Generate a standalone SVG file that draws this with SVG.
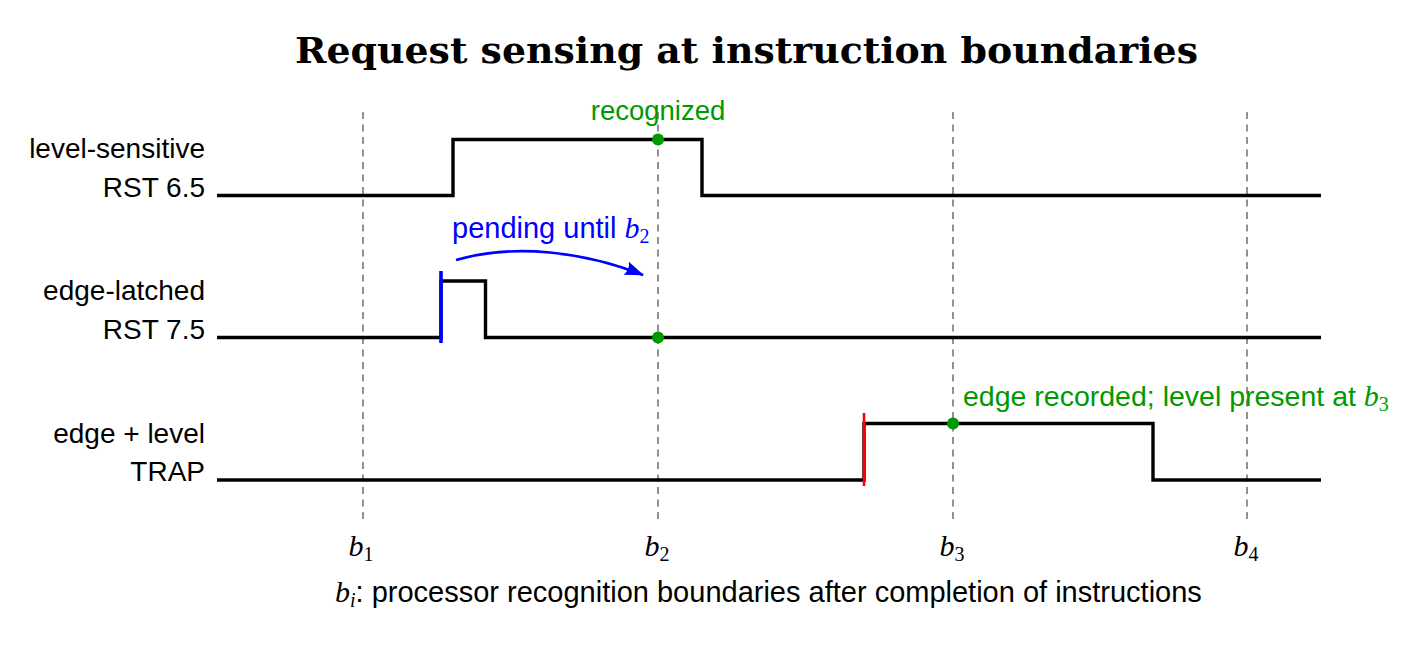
<svg xmlns="http://www.w3.org/2000/svg" width="1422" height="649" viewBox="0 0 1422 649">
<style>
.lbl{font-family:"Liberation Sans",Arial,sans-serif;font-size:28px;fill:#000}
.math{font-family:"Liberation Serif","Times New Roman",serif;font-style:italic;font-size:30px}
.sub{font-family:"Liberation Serif","Times New Roman",serif;font-style:normal;font-size:20px}
.sig{fill:none;stroke:#000;stroke-width:3.4;stroke-linejoin:miter}
.grid{stroke:#777;stroke-width:1.6;stroke-dasharray:7 5.5}
.dot{fill:#009900}
.green{fill:#009900}
.blue{fill:#0000ff}
</style>
<defs>
<marker id="arr" markerUnits="userSpaceOnUse" markerWidth="24" markerHeight="20" viewBox="-20 -10 24 20" refX="0" refY="0" orient="auto">
<path d="M1,0 L-18,-7 Q-14,0 -18,7 Z" fill="#0000ff"/>
</marker>
</defs>
<rect width="1422" height="649" fill="#fff"/>
<text x="295" y="63" textLength="903" lengthAdjust="spacingAndGlyphs" font-family="'DejaVu Serif','Liberation Serif',serif" font-weight="bold" font-size="35">Request sensing at instruction boundaries</text>
<g id="grid">
<line class="grid" x1="363" y1="112" x2="363" y2="522"/>
<line class="grid" x1="658" y1="112" x2="658" y2="522"/>
<line class="grid" x1="953" y1="112" x2="953" y2="522"/>
<line class="grid" x1="1247" y1="112" x2="1247" y2="522"/>
</g>
<g id="boundary-labels">
<text class="math" x="361" y="556" text-anchor="middle">b<tspan class="sub" dy="5">1</tspan></text>
<text class="math" x="657" y="556" text-anchor="middle">b<tspan class="sub" dy="5">2</tspan></text>
<text class="math" x="952" y="556" text-anchor="middle">b<tspan class="sub" dy="5">3</tspan></text>
<text class="math" x="1246" y="556" text-anchor="middle">b<tspan class="sub" dy="5">4</tspan></text>
</g>
<g id="rst65">
<text class="lbl" x="205" y="158" text-anchor="end">level-sensitive</text>
<text class="lbl" x="205" y="197" text-anchor="end">RST 6.5</text>
<path class="sig" d="M217,195.5 H453 V139.5 H702 V195.5 H1321"/>
<circle class="dot" cx="658" cy="139.5" r="6"/>
<text class="lbl green" x="658" y="120" text-anchor="middle" style="font-size:27.5px">recognized</text>
</g>
<g id="rst75">
<text class="lbl" x="205" y="300" text-anchor="end">edge-latched</text>
<text class="lbl" x="205" y="339" text-anchor="end">RST 7.5</text>
<path class="sig" d="M217,337.5 H441 V281 H485.5 V337.5 H1321"/>
<line x1="441" y1="271" x2="441" y2="343" stroke="#0000ff" stroke-width="3.6"/>
<circle class="dot" cx="658" cy="337.5" r="6"/>
<text class="lbl blue" x="452" y="238" style="font-size:29px">pending until <tspan class="math">b</tspan><tspan class="sub" dy="5">2</tspan></text>
</g>
<g id="trap">
<text class="lbl" x="205" y="443" text-anchor="end">edge + level</text>
<text class="lbl" x="205" y="481" text-anchor="end">TRAP</text>
<path class="sig" d="M217,480 H864 V423.5 H1153 V480 H1321"/>
<line x1="864" y1="413" x2="864" y2="486" stroke="#ff0000" stroke-width="2.6"/>
<circle class="dot" cx="953" cy="423.5" r="6"/>
<text class="lbl green" x="963" y="406" style="font-size:28.5px">edge recorded; level present at <tspan class="math">b</tspan><tspan class="sub" dy="5">3</tspan></text>
</g>
<g id="connectors">
<path d="M456,260 C515,243 585,252 643,275" fill="none" stroke="#0000ff" stroke-width="2.6" marker-end="url(#arr)"/>
</g>
<text class="lbl" x="335" y="602" style="font-size:29px"><tspan class="math">b</tspan><tspan class="math" style="font-size:20px" dy="5">i</tspan><tspan dy="-5">: processor recognition boundaries after completion of instructions</tspan></text>
</svg>
